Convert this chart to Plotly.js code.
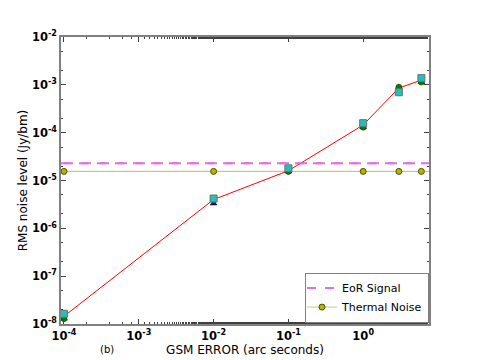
<!DOCTYPE html>
<html>
<head>
<meta charset="utf-8">
<script src="https://cdn.plot.ly/plotly-3.0.1.min.js"></script>
<style>
  html, body { margin: 0; padding: 0; background: #fff; }
  #chart { width: 477px; height: 360px; }
</style>
</head>
<body>
<div id="chart"></div>
<script>
// GSM error (arc seconds) and rms noise level (Jy/bm)
const gsmError = [1e-4, 1e-2, 1e-1, 1, 3, 6];
const meanRms = [1.45e-8, 4.0e-6, 1.6e-5, 1.45e-4, 8.6e-4, 1.25e-3];
const rmsSquares = [1.64e-8, 4.2e-6, 1.8e-5, 1.58e-4, 7.0e-4, 1.38e-3];
const rmsCircles = [1.29e-8, 3.9e-6, 1.6e-5, 1.3e-4, 8.95e-4, 1.14e-3];
const rmsTriangles = [1.3e-8, 3.3e-6, 1.55e-5, 1.3e-4, 8.9e-4, 1.14e-3];
const eorSignal = 2.3e-5;
const thermalNoise = 1.55e-5;

// tick labels
const xTickExp = [-4, -3, -2, -1, 0];
const yTickExp = [-8, -7, -6, -5, -4, -3, -2];
const powLabel = e => "10<sup>" + (e < 0 ? "-" + (-e) : e) + "</sup>";

const axisFont = { family: "DejaVu Sans", size: 11.5, color: "#000", weight: "bold" };

const traces = [
  {
    x: gsmError, y: gsmError.map(() => thermalNoise),
    name: "Thermal Noise", mode: "lines+markers", type: "scatter",
    line: { color: "#c8c878", width: 1 },
    marker: { symbol: "circle", size: 6, color: "#b4b400", line: { color: "#505000", width: 1 } }
  },
  {
    x: gsmError, y: meanRms, mode: "lines", type: "scatter", showlegend: false,
    line: { color: "#ff0000", width: 1 }
  },
  {
    x: gsmError, y: rmsTriangles, mode: "markers", type: "scatter", showlegend: false,
    marker: { symbol: "triangle-up", size: 6, color: "#1010a0", line: { color: "#000", width: 0.5 } }
  },
  {
    x: gsmError, y: rmsCircles, mode: "markers", type: "scatter", showlegend: false,
    marker: { symbol: "circle", size: 6, color: "#008000", line: { color: "#003000", width: 0.5 } }
  },
  {
    x: gsmError, y: rmsSquares, mode: "markers", type: "scatter", showlegend: false,
    marker: { symbol: "square", size: 7, color: "#20c0c0", line: { color: "#707070", width: 1 } }
  },
  {
    x: gsmError, y: gsmError.map(() => eorSignal),
    name: "EoR Signal", mode: "lines", type: "scatter",
    line: { color: "#e070e0", width: 2, dash: "dash" }
  }
];

const logAxis = {
  type: "log",
  showline: true, linecolor: "#808080", linewidth: 1.5, mirror: "allticks",
  ticks: "inside", ticklen: 5, tickcolor: "#404040",
  minor: { ticks: "inside", ticklen: 2.5, tickcolor: "#404040", showgrid: false },
  showgrid: false, zeroline: false, tickfont: axisFont
};

const layout = {
  width: 477, height: 360,
  margin: { l: 61, r: 48, t: 37, b: 36 },
  paper_bgcolor: "#fff", plot_bgcolor: "#fff",
  font: { family: "DejaVu Sans", color: "#000" },
  xaxis: Object.assign({}, logAxis, {
    range: [-4.04, 0.88],
    tickmode: "array",
    tickvals: xTickExp.map(e => Math.pow(10, e)),
    ticktext: xTickExp.map(powLabel),
    title: { text: "GSM ERROR (arc seconds)", font: { size: 12 }, standoff: 2 }
  }),
  yaxis: Object.assign({}, logAxis, {
    range: [-8, -2],
    tickmode: "array",
    tickvals: yTickExp.map(e => Math.pow(10, e)),
    ticktext: yTickExp.map(powLabel),
    title: { text: "RMS noise level (Jy/bm)", font: { size: 12 }, standoff: 2 }
  }),
  shapes: [
    { type: "line", xref: "paper", x0: 0, x1: 1, yref: "y", y0: eorSignal, y1: eorSignal,
      line: { color: "#e070e0", width: 2, dash: "dash" }, layer: "below" },
    { type: "line", xref: "paper", x0: 0, x1: 1, yref: "y", y0: thermalNoise, y1: thermalNoise,
      line: { color: "#c8c878", width: 1 }, layer: "below" }
  ],
  annotations: [
    { text: "(b)", xref: "paper", yref: "paper", x: 0.125, y: -0.09, showarrow: false,
      xanchor: "center", yanchor: "middle", font: { size: 10 } }
  ],
  legend: {
    x: 1, y: 0.005, xanchor: "right", yanchor: "bottom",
    bgcolor: "#fff", bordercolor: "#808080", borderwidth: 1,
    font: { size: 11 }, traceorder: "reversed", tracegroupgap: 0,
    itemwidth: 30, indentation: -4
  }
};

Plotly.newPlot("chart", traces, layout, { displayModeBar: false });
</script>
</body>
</html>
